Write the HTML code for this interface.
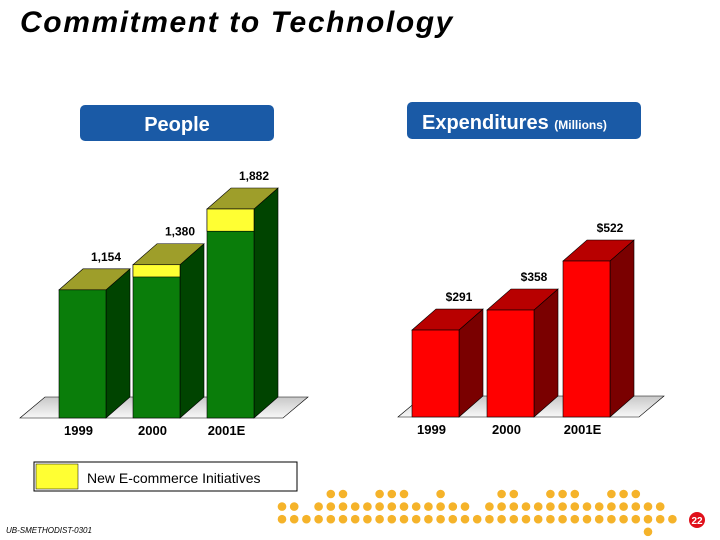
<!DOCTYPE html>
<html><head><meta charset="utf-8"><style>
body{margin:0;background:#fff;font-family:"Liberation Sans",sans-serif}
#wrap{position:relative;width:720px;height:540px;overflow:hidden}
</style></head><body><div id="wrap">
<svg width="720" height="540">
<defs><linearGradient id="fl" x1="0" y1="0" x2="0" y2="1"><stop offset="0" stop-color="#c8c8c8"/><stop offset="1" stop-color="#f8f8f8"/></linearGradient></defs>
<text x="20" y="32" font-size="30" font-weight="bold" font-style="italic" letter-spacing="1.6">Commitment to Technology</text>
<rect x="80" y="105" width="194" height="36" rx="5" fill="#1a5aa6"/>
<text x="177" y="131" font-size="20" font-weight="bold" fill="#fff" text-anchor="middle">People</text>
<rect x="407" y="102" width="234" height="37" rx="5" fill="#1a5aa6"/>
<text x="422" y="129" font-size="20" font-weight="bold" fill="#fff">Expenditures <tspan font-size="12">(Millions)</tspan></text>
<g id="g1"></g><g id="g2"></g>
<rect x="34" y="462" width="263" height="29" fill="#fff" stroke="#000"/>
<rect x="36" y="464" width="42" height="25" fill="#ffff33" stroke="#000" stroke-width="0.5"/>
<text x="87" y="483" font-size="14">New E-commerce Initiatives</text>
<text x="6" y="533" font-size="8" font-style="italic">UB-SMETHODIST-0301</text>
<g id="dots"></g>
<circle cx="697" cy="520" r="8" fill="#e0101a"/>
<text x="697" y="524" font-size="10" font-weight="bold" fill="#fff" text-anchor="middle">22</text>
</svg></div>
<script>
const years=["1999","2000","2001E"];
const people=[1154,1380,1882];
const ecommerce=[0,110,200];
const peopleLabels=["1,154","1,380","1,882"];
const spend=[291,358,522];
const spendLabels=["$291","$358","$522"];
const NS="http://www.w3.org/2000/svg";
function mk(p,t,a){const e=document.createElementNS(NS,t);for(const k in a)e.setAttribute(k,a[k]);p.appendChild(e);return e;}
function chart(gid,x0,xs,base,scale,vals,tops,labels,front,side,top,name){
 const g=document.getElementById(gid);const dx=24,dy=21;
 let f=mk(g,'polygon',{points:`${x0},${base} ${xs[2]+47+dx+5},${base} ${xs[2]+47+dx+30},${base-dy} ${x0+25},${base-dy}`,fill:'url(#fl)',stroke:'#000','stroke-width':0.6});
 
 
 vals.forEach((v,i)=>{
  const x=xs[i],w=47,h=v*scale,y=base-h;
  const b=mk(g,'g',{});
  
  
  mk(b,'polygon',{points:`${x+w},${base} ${x+w+dx},${base-dy} ${x+w+dx},${y-dy} ${x+w},${y}`,fill:side,stroke:'#000','stroke-width':0.6});
  mk(b,'polygon',{points:`${x},${y} ${x+dx},${y-dy} ${x+w+dx},${y-dy} ${x+w},${y}`,fill:top,stroke:'#000','stroke-width':0.6});
  mk(b,'rect',{x:x,y:y,width:w,height:h,fill:front,stroke:'#000','stroke-width':0.6});
  if(tops&&tops[i]>0){mk(b,'rect',{x:x,y:y,width:w,height:tops[i]*scale,fill:'#ffff33',stroke:'#000','stroke-width':0.6});}
  const t=mk(g,'text',{x:x+w,y:y-dy-8,'font-size':12,'font-weight':'bold','text-anchor':'middle'});t.textContent=labels[i];
  
  
  const c=mk(g,'text',{x:x+w/2-4,y:base+17,'font-size':13,'font-weight':'bold','text-anchor':'middle'});c.textContent=years[i];
  
  
 });
}
chart('g1',20,[59,133,207],418,209/1882,people,ecommerce,peopleLabels,'#0a7d0a','#004400','#9e9e2a','people');
chart('g2',398,[412,487,563],417,156/522,spend,null,spendLabels,'#ff0000','#7a0000','#b80000','expenditures');
const dg=document.getElementById('dots');
const rows=[[4,5,8,9,10,13,18,19,22,23,24,27,28,29],[0,1,3,4,5,6,7,8,9,10,11,12,13,14,15,17,18,19,20,21,22,23,24,25,26,27,28,29,30,31],[...Array(33).keys()],[30]];
rows.forEach((r,ri)=>r.forEach(i=>{const c=mk(dg,'circle',{cx:282+12.2*i,cy:494+12.6*ri,r:4.3,fill:'#f5b32a'});
 
 }));
</script></body></html>
